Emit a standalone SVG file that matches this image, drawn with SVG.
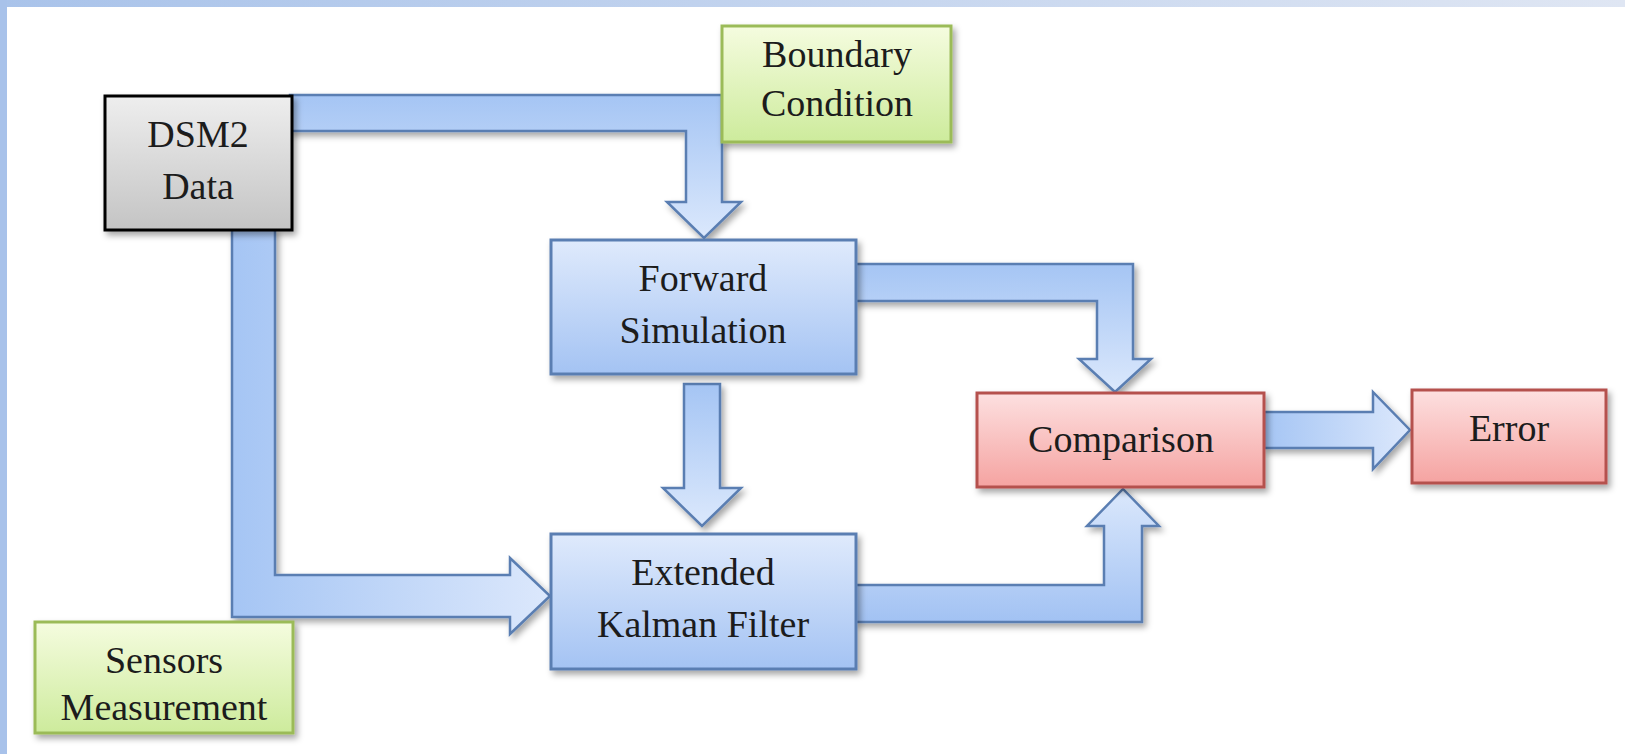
<svg xmlns="http://www.w3.org/2000/svg" width="1625" height="754" viewBox="0 0 1625 754">
<style>
.lbl{font-family:"Liberation Serif","Times New Roman",serif;font-size:38px;fill:#1c1c1c;text-anchor:middle}
.arw{stroke:#5a7eb2;stroke-width:2.5;stroke-linejoin:miter}
.box{stroke-width:3}
</style>
<defs>
<linearGradient id="topStrip" x1="0" y1="0" x2="1" y2="0">
<stop offset="0" stop-color="#a9c3ea"/><stop offset="1" stop-color="#dfe6f3"/>
</linearGradient>
<linearGradient id="gGray" x1="0" y1="0" x2="0" y2="1">
<stop offset="0" stop-color="#eeeeee"/><stop offset="1" stop-color="#c4c4c4"/>
</linearGradient>
<linearGradient id="gGreen" x1="0" y1="0" x2="0" y2="1">
<stop offset="0" stop-color="#f5fcdf"/><stop offset="1" stop-color="#cdeb9c"/>
</linearGradient>
<linearGradient id="gBlue" x1="0" y1="0" x2="0" y2="1">
<stop offset="0" stop-color="#dfeafc"/><stop offset="1" stop-color="#a4c3f3"/>
</linearGradient>
<linearGradient id="gRed" x1="0" y1="0" x2="0" y2="1">
<stop offset="0" stop-color="#fde0e0"/><stop offset="1" stop-color="#f5a3a1"/>
</linearGradient>
<linearGradient id="aDown" x1="0" y1="0" x2="0" y2="1">
<stop offset="0" stop-color="#a5c5f4"/><stop offset="1" stop-color="#dbe8fc"/>
</linearGradient>
<linearGradient id="aUp" x1="0" y1="1" x2="0" y2="0">
<stop offset="0" stop-color="#a2c2f3"/><stop offset="1" stop-color="#dbe8fc"/>
</linearGradient>
<linearGradient id="aRight" x1="0" y1="0" x2="1" y2="0">
<stop offset="0" stop-color="#a5c5f4"/><stop offset="1" stop-color="#dce8fc"/>
</linearGradient>
<filter id="sh" x="-10%" y="-10%" width="125%" height="130%">
<feDropShadow dx="3" dy="4" stdDeviation="3" flood-color="#000" flood-opacity="0.35"/>
</filter>
</defs>
<rect x="0" y="0" width="1625" height="754" fill="#ffffff"/>
<rect x="0" y="0" width="1625" height="7" fill="url(#topStrip)"/>
<rect x="0" y="0" width="7" height="754" fill="#a8c2ea"/>

<g id="connectors">
<path id="c-dsm2-forward" class="arw" filter="url(#sh)" fill="url(#aDown)" d="M290,95 H722 V202 H741 L704,238 L667,202 H686 V131 H290 Z"/>
<path id="c-forward-comparison" class="arw" filter="url(#sh)" fill="url(#aDown)" d="M855,264 H1133 V359 H1151 L1115,392 L1079,359 H1097 V301 H855 Z"/>
<path id="c-forward-ekf" class="arw" filter="url(#sh)" fill="url(#aDown)" d="M684,384 H720 V488 H741 L702,526 L663,488 H684 Z"/>
<path id="c-ekf-comparison" class="arw" filter="url(#sh)" fill="url(#aUp)" d="M855,622 H1142 V526 H1159 L1123,489 L1087,526 H1104 V585 H855 Z"/>
<path id="c-comparison-error" class="arw" filter="url(#sh)" fill="url(#aRight)" d="M1264,412 H1373 V392 L1410,430 L1373,469 V448 H1264 Z"/>
<path id="c-dsm2-ekf" class="arw" filter="url(#sh)" fill="url(#aRight)" d="M232,229 H275 V575 H510 V558 L550,596 L510,634 V617 H232 Z"/>
</g>

<g id="dsm2">
<rect class="box" x="105" y="96" width="187" height="134" fill="url(#gGray)" stroke="#000" filter="url(#sh)"/>
<text class="lbl" x="198" y="147">DSM2</text>
<text class="lbl" x="198" y="199">Data</text>
</g>
<g id="boundary">
<rect class="box" x="722" y="26" width="229" height="116" fill="url(#gGreen)" stroke="#9bbb59" filter="url(#sh)"/>
<text class="lbl" x="837" y="67">Boundary</text>
<text class="lbl" x="837" y="116">Condition</text>
</g>
<g id="forward">
<rect class="box" x="551" y="240" width="305" height="134" fill="url(#gBlue)" stroke="#5a7eb2" filter="url(#sh)"/>
<text class="lbl" x="703" y="291">Forward</text>
<text class="lbl" x="703" y="343">Simulation</text>
</g>
<g id="ekf">
<rect class="box" x="551" y="534" width="305" height="135" fill="url(#gBlue)" stroke="#5a7eb2" filter="url(#sh)"/>
<text class="lbl" x="703" y="585">Extended</text>
<text class="lbl" x="703" y="637">Kalman Filter</text>
</g>
<g id="comparison">
<rect class="box" x="977" y="393" width="287" height="94" fill="url(#gRed)" stroke="#b5514e" filter="url(#sh)"/>
<text class="lbl" x="1121" y="452">Comparison</text>
</g>
<g id="error">
<rect class="box" x="1412" y="390" width="194" height="93" fill="url(#gRed)" stroke="#b5514e" filter="url(#sh)"/>
<text class="lbl" x="1509" y="441">Error</text>
</g>
<g id="sensors">
<rect class="box" x="35" y="622" width="258" height="111" fill="url(#gGreen)" stroke="#9bbb59" filter="url(#sh)"/>
<text class="lbl" x="164" y="673">Sensors</text>
<text class="lbl" x="164" y="720">Measurement</text>
</g>
</svg>
